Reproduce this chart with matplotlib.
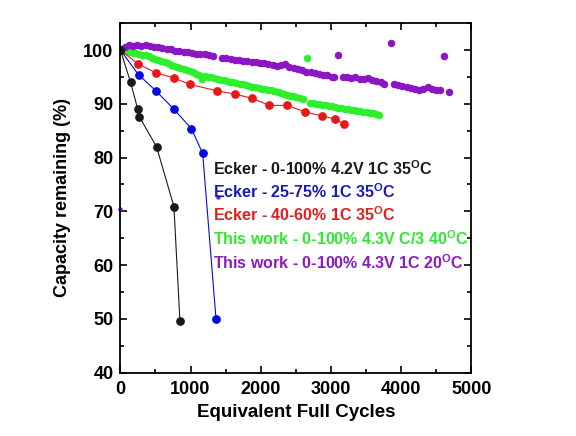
import matplotlib
matplotlib.use("Agg")
import matplotlib.pyplot as plt
from matplotlib.ticker import MultipleLocator

plt.rcParams["font.family"] = ["Liberation Sans", "DejaVu Sans"]
plt.rcParams["font.weight"] = "bold"
plt.rcParams["mathtext.fontset"] = "custom"
plt.rcParams["mathtext.rm"] = "Liberation Sans:bold"
plt.rcParams["mathtext.bf"] = "Liberation Sans:bold"

# Ecker 0-100% 4.2V 1C 35C
black_x = [0, 145, 245, 270, 516, 763, 849]
black_y = [100, 94.0, 89.1, 87.6, 82.0, 70.9, 49.6]

# Ecker 25-75% 1C 35C
blue_x = [0, 259, 507, 763, 1011, 1173, 1363]
blue_y = [100, 95.4, 92.4, 89.0, 85.4, 80.8, 50.0]

# Ecker 40-60% 1C 35C
red_x = [0, 254, 502, 763, 992, 1382, 1634, 1881, 2124, 2376, 2633, 2880, 3061, 3189]
red_y = [100, 97.4, 95.8, 94.8, 93.6, 92.4, 91.8, 91.0, 89.7, 89.7, 88.5, 87.7, 87.2, 86.2]

# This work 0-100% 4.3V C/3 40C
green_x = [0, 45, 90, 135, 180, 225, 270, 315, 360, 405, 450, 495, 540, 585, 630,
           675, 720, 765, 810, 855, 900, 945, 990, 1035, 1080, 1125, 1165,
           1205, 1250, 1295, 1340, 1385, 1430, 1475, 1520, 1565, 1610, 1655, 1700,
           1745, 1790, 1835, 1880, 1925, 1970, 2015, 2060, 2105, 2150, 2195, 2240,
           2285, 2330, 2375, 2420, 2465, 2510, 2555, 2600,
           2700, 2745, 2790, 2835, 2880, 2925, 2970, 3015, 3060, 3105, 3150, 3195,
           3240, 3285, 3330, 3375, 3420, 3465, 3510, 3555, 3600, 3645, 3690,
           2657]
green_y = [100.0, 99.9, 99.8, 99.7, 99.5, 99.4, 99.3, 99.1, 99.0, 98.8, 98.6, 98.4, 98.2, 98.0, 97.7,
           97.5, 97.3, 97.1, 96.9, 96.7, 96.5, 96.3, 96.1, 95.9, 95.6, 95.3, 94.6,
           95.2, 95.0, 94.9, 94.8, 94.6, 94.5, 94.4, 94.2, 94.1, 94.0, 93.8, 93.7,
           93.6, 93.5, 93.3, 93.2, 93.1, 93.0, 92.8, 92.7, 92.6, 92.5, 92.3, 92.2,
           92.0, 91.9, 91.7, 91.5, 91.4, 91.2, 91.0, 90.8,
           90.2, 90.1, 90.0, 89.9, 89.8, 89.7, 89.6, 89.5, 89.4, 89.3, 89.2, 89.1,
           89.0, 88.9, 88.8, 88.7, 88.6, 88.5, 88.4, 88.3, 88.2, 88.1, 87.9,
           98.5]

# This work 0-100% 4.3V 1C 20C
purple_x = [0, 60, 120, 180, 240, 300, 360, 420, 480, 540, 600, 660, 720, 780, 840,
            900, 960, 1020, 1080, 1140, 1200, 1260, 1320,
            1450, 1510, 1570, 1630, 1690, 1750, 1810, 1870, 1930, 1990, 2050, 2110,
            2170, 2230, 2290, 2350, 2410, 2470, 2530, 2590, 2650, 2710, 2770, 2830,
            2890, 2950, 3010, 3050,
            3170, 3230, 3290, 3350, 3410, 3470, 3530, 3590, 3650, 3710, 3760,
            3900, 3960, 4020, 4080, 4140, 4200, 4260, 4320, 4380, 4440, 4500, 4560, 4680,
            3099, 3855, 4607]
purple_y = [100.0, 100.6, 100.9, 100.8, 100.9, 100.8, 100.9, 100.7, 100.6, 100.5, 100.3, 100.2, 100.1, 99.9, 99.8,
            99.6, 99.6, 99.4, 99.3, 99.2, 99.2, 99.0, 98.9,
            98.6, 98.5, 98.4, 98.2, 98.1, 98.0, 97.9, 97.8, 97.7, 97.5, 97.5, 97.4,
            97.2, 97.1, 97.3, 97.4, 96.8, 96.6, 96.4, 96.2, 96.0, 96.0, 95.8, 95.5,
            95.4, 95.3, 95.0, 94.9,
            95.0, 95.0, 94.8, 94.9, 94.7, 94.6, 94.8, 94.4, 94.2, 94.0, 93.6,
            93.6, 93.5, 93.3, 93.1, 93.0, 92.8, 92.5, 92.7, 93.1, 92.8, 92.5, 92.6, 92.2,
            99.1, 101.3, 98.8]
# two small stray purple points
stray_x = [0, 1387]
stray_y = [70.5, 72.6]

labels = [
    r"Ecker - 0-100% 4.2V 1C 35$^{\mathbf{O}}$C",
    r"Ecker - 25-75% 1C 35$^{\mathbf{O}}$C",
    r"Ecker - 40-60% 1C 35$^{\mathbf{O}}$C",
    r"This work - 0-100% 4.3V C/3 40$^{\mathbf{O}}$C",
    r"This work - 0-100% 4.3V 1C 20$^{\mathbf{O}}$C",
]
label_colors = ["#1a1a1a", "#1a1ab4", "#e02020", "#33e633", "#8a1cc0"]

fig = plt.figure(figsize=(5.76, 4.36), dpi=100)
ax = fig.add_axes([0.209, 0.145, 0.609, 0.802])

ax.plot(green_x, green_y, "o", color="#2cf02c", ms=5.4, mec="none")
ax.plot(purple_x, purple_y, "o", color="#8a16c4", ms=5.4, mec="none")
ax.plot(stray_x, stray_y, "o", color="#7a1cb8", ms=3.2, mec="none", clip_on=False)
ax.plot(red_x, red_y, "-o", color="#e81818", lw=0.8, ms=6.3, mec="none")
ax.plot(blue_x, blue_y, "-o", color="#0808e0", lw=0.8, ms=6.3, mec="none")
ax.plot(black_x, black_y, "-o", color="#1a1a1a", lw=0.8, ms=6.3, mec="none")

text_y = [77.9, 73.6, 69.4, 64.9, 60.4]
for lab, col, ty in zip(labels, label_colors, text_y):
    ax.text(1320, ty, lab, color=col, fontsize=11.5, fontweight="bold", va="center")

ax.set_xlim(0, 5000)
ax.set_ylim(40, 105)
ax.xaxis.set_major_locator(MultipleLocator(1000))
ax.xaxis.set_minor_locator(MultipleLocator(500))
ax.yaxis.set_major_locator(MultipleLocator(10))
ax.yaxis.set_minor_locator(MultipleLocator(5))
ax.set_yticks([40, 50, 60, 70, 80, 90, 100])
ax.tick_params(which="both", direction="in", top=True, right=True, width=1.2)
ax.tick_params(which="major", length=5, labelsize=13)
ax.tick_params(axis="x", which="major", pad=6)
ax.tick_params(axis="y", which="major", pad=5)
ax.tick_params(which="minor", length=3)
for s in ax.spines.values():
    s.set_linewidth(1.3)

ax.set_xlabel("Equivalent Full Cycles", fontsize=13.5, fontweight="bold", labelpad=4)
ax.set_ylabel("Capacity remaining (%)", fontsize=13, fontweight="bold", labelpad=9)

fig.savefig("out.png", dpi=100)
